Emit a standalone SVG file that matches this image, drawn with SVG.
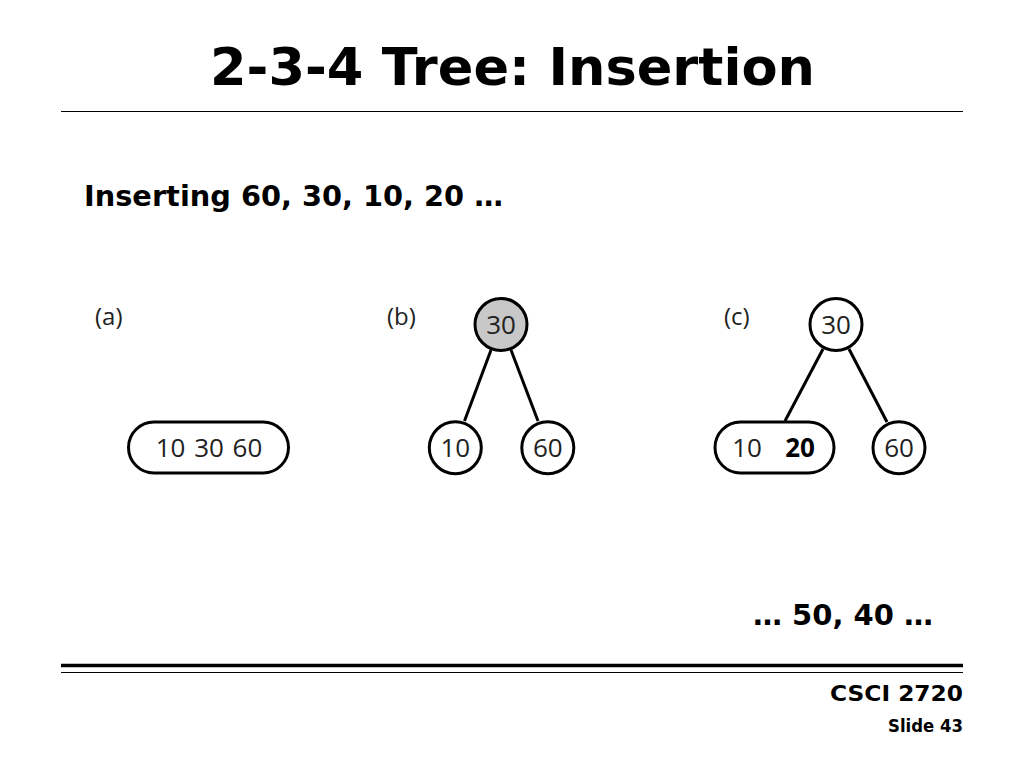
<svg xmlns="http://www.w3.org/2000/svg" width="1024" height="768" viewBox="0 0 1024 768">
<style>
.hd{font-family:"DejaVu Sans",Verdana,sans-serif;font-weight:bold;fill:#000}
.lb{font-family:"Open Sans","Noto Sans",sans-serif;font-size:24px;fill:#222}
.nt{font-family:"Open Sans","Noto Sans",sans-serif;font-size:26px;fill:#222;text-anchor:middle}
.nd{fill:#fff;stroke:#000;stroke-width:3}
.edge{stroke:#000;stroke-width:3;fill:none}
</style>
<rect width="1024" height="768" fill="#fff"/>
<text class="hd" x="210" y="85" font-size="52" textLength="605" lengthAdjust="spacingAndGlyphs">2-3-4 Tree: Insertion</text>
<line x1="61" y1="111.5" x2="963" y2="111.5" stroke="#000" stroke-width="1"/>
<text class="hd" x="84" y="206" font-size="28" textLength="419" lengthAdjust="spacingAndGlyphs">Inserting 60, 30, 10, 20 …</text>

<text class="lb" x="95" y="325">(a)</text>
<text class="lb" x="387" y="325">(b)</text>
<text class="lb" x="724" y="325">(c)</text>

<g id="connectors">
<line class="edge" x1="491" y1="350" x2="464.5" y2="421"/>
<line class="edge" x1="511" y1="350" x2="538" y2="421"/>
<line class="edge" x1="823" y1="349" x2="785" y2="421"/>
<line class="edge" x1="849" y1="349" x2="887" y2="422"/>
</g>

<g id="a-10-30-60">
<rect class="nd" x="128.5" y="422" width="160" height="51" rx="25.5"/>
<text class="nt" x="209" y="457" word-spacing="2">10 30 60</text>
</g>

<g id="b-30">
<circle class="nd" cx="501" cy="324.5" r="26" style="fill:#c8c8c8"/>
<text class="nt" x="501" y="334">30</text>
</g>
<g id="b-10">
<circle class="nd" cx="455.3" cy="447.8" r="26"/>
<text class="nt" x="455.3" y="457">10</text>
</g>
<g id="b-60">
<circle class="nd" cx="547.8" cy="447.8" r="26"/>
<text class="nt" x="547.8" y="457">60</text>
</g>

<g id="c-30">
<circle class="nd" cx="836" cy="324.5" r="26"/>
<text class="nt" x="836" y="334">30</text>
</g>
<g id="c-10-20">
<rect class="nd" x="715" y="422" width="119" height="51" rx="25.5"/>
<text class="nt" x="747" y="457">10</text>
<text class="nt" x="800" y="457" style="font-weight:bold;fill:#000">20</text>
</g>
<g id="c-60">
<circle class="nd" cx="899" cy="447.8" r="26"/>
<text class="nt" x="899" y="457">60</text>
</g>

<text class="hd" x="753" y="625" font-size="28" textLength="180" lengthAdjust="spacingAndGlyphs">… 50, 40 …</text>
<line x1="61" y1="665.5" x2="963" y2="665.5" stroke="#000" stroke-width="3.5"/>
<line x1="61" y1="672.5" x2="963" y2="672.5" stroke="#000" stroke-width="1"/>
<text class="hd" x="830" y="701" font-size="22" textLength="133" lengthAdjust="spacingAndGlyphs">CSCI 2720</text>
<text class="hd" x="888" y="732" font-size="17" textLength="75" lengthAdjust="spacingAndGlyphs">Slide 43</text>
</svg>
